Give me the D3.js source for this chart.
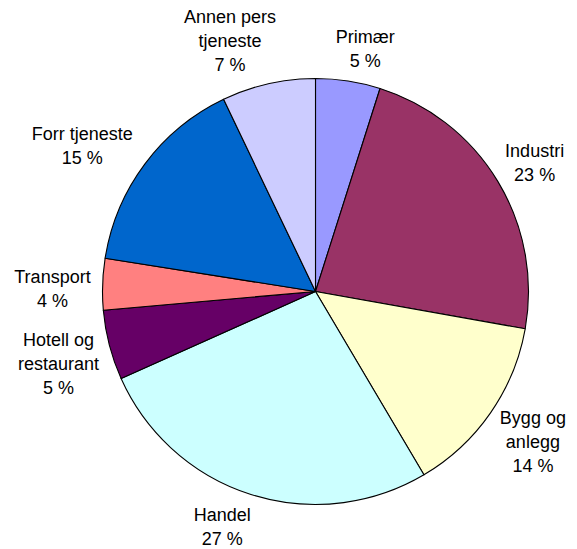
<!DOCTYPE html>
<html><head><meta charset="utf-8">
<script src="https://cdn.jsdelivr.net/npm/d3@7"></script>
<style>
body{margin:0;background:#fff}
svg text{font-family:"Liberation Sans",Arial,sans-serif;font-size:18px;fill:#000}
</style>
</head><body>
<svg id="chart" width="577" height="549"></svg>
<script>
const categories = ["Primær","Industri","Bygg og anlegg","Handel","Hotell og restaurant","Transport","Forr tjeneste","Annen pers tjeneste"];
const values = [4.9, 22.9, 13.7, 26.8, 5.3, 3.9, 15.4, 7.1];
const percentLabels = ["5 %","23 %","14 %","27 %","5 %","4 %","15 %","7 %"];
const labelLines = [["Primær"],["Industri"],["Bygg og","anlegg"],["Handel"],["Hotell og","restaurant"],["Transport"],["Forr tjeneste"],["Annen pers","tjeneste"]];
const colors = ["#9999FF","#993366","#FFFFCC","#CCFFFF","#660066","#FF8080","#0066CC","#CCCCFF"];
// layout nudges for labels (Excel-like placement)
const labelNudge = [[11,1],[3,-1],[7,3],[-17,0],[-2,7],[-2,6],[-14,2],[-26,1.5]];

const W = 577, H = 549;
const cx = 315.5, cy = 291.5, r = 213, gap = 10, lh = 23.7;
const svg = d3.select("#chart");
const g = svg.append("g").attr("transform", `translate(${cx},${cy})`);

const data = categories.map((c,i)=>({cat:c, value:values[i], i}));
const pie = d3.pie().sort(null).value(d=>d.value);
const arcs = pie(data);
const arc = d3.arc().innerRadius(0).outerRadius(r);

g.selectAll("path.slice").data(arcs).join("path")
  .attr("class","slice")
  .attr("d", arc)
  .attr("fill", d=>colors[d.data.i])
  .attr("stroke","#000")
  .attr("stroke-width",1.1)
  .attr("stroke-linejoin","round");

const lg = g.append("g");
arcs.forEach(d=>{
  const i = d.data.i;
  const lines = labelLines[i].concat([percentLabels[i]]);
  const t = lg.append("text").attr("text-anchor","middle");
  const spans = lines.map(l=>t.append("tspan").text(l));
  const w = d3.max(spans, s=>s.node().getComputedTextLength());
  const h = lines.length*lh;
  const a = (d.startAngle+d.endAngle)/2;
  const s = Math.sin(a), c = Math.cos(a);
  const ax = s*(r+gap), ay = -c*(r+gap);
  const x = ax + s*w/2 + labelNudge[i][0];
  const y = ay - c*h/2 + labelNudge[i][1];
  const top = y - h/2;
  spans.forEach((sp,k)=>sp.attr("x",x).attr("y", top + lh*(k+0.5)).attr("dy","0.35em"));
});
</script>
</body></html>
